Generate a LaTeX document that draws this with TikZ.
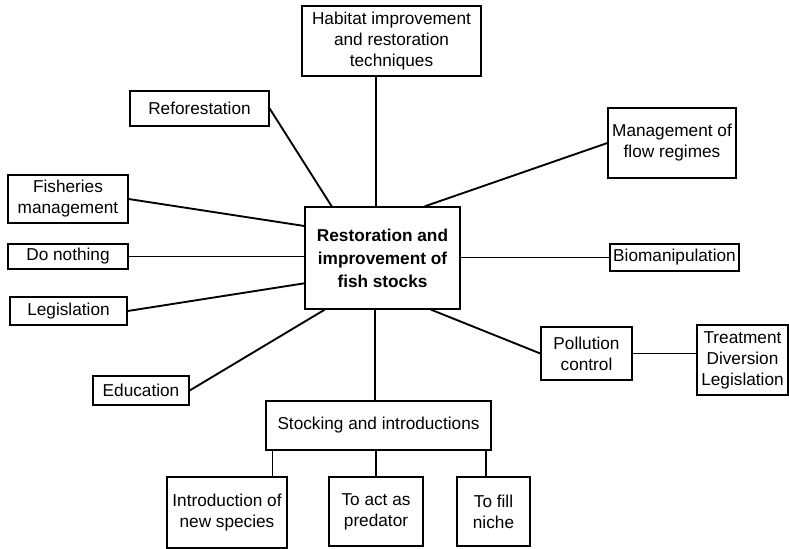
\documentclass[tikz,border=0pt]{standalone}
\usepackage{fontspec}
\setmainfont{Liberation Sans}
\usetikzlibrary{calc}
\begin{document}
\begin{tikzpicture}[x=0.03cm,y=-0.03cm,
  box/.style={draw,line width=1.1pt,align=center,inner sep=1pt,
    font=\fontsize{14.7pt}{17.9pt}\selectfont},
  link/.style={line width=1.6pt}]

\useasboundingbox (0,0) rectangle (789,548);

% centre box
\node[box,minimum width=4.65cm,minimum height=3.06cm,
  font=\fontsize{14.7pt}{19.6pt}\selectfont\bfseries]
  (central) at (382.5,258) {Restoration and\\improvement of\\fish stocks};

% boxes round the centre
\node[box,minimum width=5.37cm,minimum height=2.10cm] (habitat) at (391.5,41)
  {Habitat improvement\\and restoration\\techniques};
\node[box,minimum width=4.17cm,minimum height=1.05cm] (refor) at (199.5,108.5) {Reforestation};
\node[box,minimum width=3.60cm,minimum height=1.44cm] (fish) at (68,199) {Fisheries\\management};
\node[box,minimum width=3.60cm,minimum height=0.75cm] (nothing) at (68,256.5) {Do nothing};
\node[box,minimum width=3.51cm,minimum height=0.84cm] (legis) at (68.5,311) {Legislation};
\node[box,minimum width=2.88cm,minimum height=0.87cm] (edu) at (141,390.5) {Education};
\node[box,minimum width=3.84cm,minimum height=2.10cm] (flow) at (672,143) {Management of\\flow regimes};
\node[box,minimum width=3.87cm,minimum height=0.81cm] (bio) at (674.5,257.5) {Biomanipulation};
\node[box,minimum width=2.73cm,minimum height=1.59cm] (poll) at (586.5,353.5) {Pollution\\control};
\node[box,minimum width=2.73cm,minimum height=2.10cm] (treat) at (742.5,360) {Treatment\\Diversion\\Legislation};

% stocking branch
\node[box,minimum width=6.75cm,minimum height=1.47cm] (stock) at (378.5,425.5) {Stocking and introductions};
\node[box,minimum width=3.60cm,minimum height=2.13cm] (intro) at (227,512.5) {Introduction of\\new species};
\node[box,minimum width=2.82cm,minimum height=2.07cm] (act) at (376,511.5) {To act as\\predator};
\node[box,minimum width=2.19cm,minimum height=2.07cm] (fill) at (493.5,511.5) {To fill\\niche};

% points on the centre box
\coordinate (topstem) at ($(central.north west)!0.46!(central.north east)$);
\coordinate (downstem) at ($(central.south west)!0.45!(central.south east)$);

\draw[link] (topstem) -- (topstem |- habitat.south);
\draw[link] (refor.east) -- ($(central.north west)!0.175!(central.north east)$);
\draw[link] (fish.east) -- ($(central.north west)!0.19!(central.south west)$);
\draw[link] (nothing.east) -- (nothing.east -| central.west);
\draw[link] (legis.east) -- ($(central.north west)!0.745!(central.south west)$);
\draw[link] (edu.east) -- ($(central.south west)!0.13!(central.south east)$);
\draw[link] (flow.west) -- ($(central.north west)!0.77!(central.north east)$);
\draw[link] (bio.west) -- (bio.west -| central.east);
\draw[link] (poll.west) -- ($(central.south west)!0.81!(central.south east)$);
\draw[link] (poll.east) -- (poll.east -| treat.west);
\draw[link] (downstem) -- (downstem |- stock.north);

\foreach \kid/\pos in {intro/0.875,act/0.5,fill/0.4}{
  \coordinate (\kid-top) at ($(\kid.north west)!\pos!(\kid.north east)$);
  \draw[link] (\kid-top) -- (\kid-top |- stock.south);
}

\end{tikzpicture}
\end{document}
